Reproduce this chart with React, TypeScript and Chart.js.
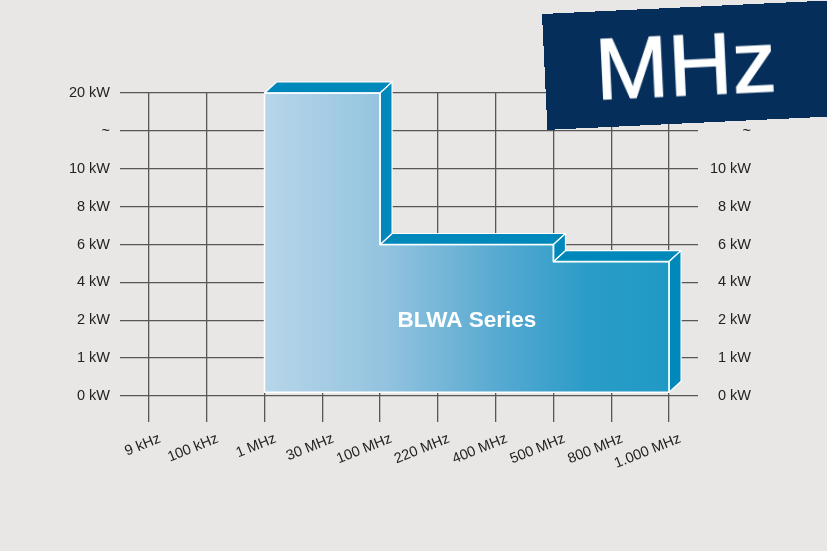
import React, { useEffect, useRef } from "react";
import { Chart, registerables } from "chart.js";

Chart.register(...registerables);

const frequencies = [
  "9 kHz",
  "100 kHz",
  "1 MHz",
  "30 MHz",
  "100 MHz",
  "220 MHz",
  "400 MHz",
  "500 MHz",
  "800 MHz",
  "1.000 MHz",
];

// the power axis is a broken scale: one step per label
const powerLabels = ["0 kW", "1 kW", "2 kW", "4 kW", "6 kW", "8 kW", "10 kW", "~", "20 kW"];

// BLWA output power per frequency (step index on the power axis, ~5 kW above 500 MHz)
const blwaLevels: (number | null)[] = [null, null, 8, 8, 4, 4, 4, 3.55, 3.55, 3.55];

const seriesName = "BLWA Series";
const seriesLabelAt = { x: 5.5, y: 2 };
const fillBase = 0.1;

const GRID = "#575757";
const TEXT = "#222222";
const FONT = '"Liberation Sans", Arial, sans-serif';
const DX = 12;
const DY = 11;

// group the stepped values into flat runs (step happens at the next run's start)
const getRuns = () => {
  const runs: { s: number; e: number; v: number }[] = [];
  blwaLevels.forEach((v, i) => {
    if (v == null) return;
    const last = runs[runs.length - 1];
    if (last && last.v === v) {
      last.e = i;
    } else {
      if (last) last.e = i;
      runs.push({ s: i, e: i, v });
    }
  });
  return runs;
};

const frontPath = (chart: any) => {
  const { ctx, scales } = chart;
  const x = scales.x;
  const y = scales.y;
  const runs = getRuns();
  const yBase = y.getPixelForValue(fillBase);
  ctx.beginPath();
  ctx.moveTo(x.getPixelForValue(runs[0].s), yBase);
  ctx.lineTo(x.getPixelForValue(runs[0].s), y.getPixelForValue(runs[0].v));
  runs.forEach((r, k) => {
    const xb = x.getPixelForValue(r.e);
    ctx.lineTo(xb, y.getPixelForValue(r.v));
    ctx.lineTo(xb, k < runs.length - 1 ? y.getPixelForValue(runs[k + 1].v) : yBase);
  });
  ctx.closePath();
};

const blockPlugin = {
  id: "blwaBlock",
  beforeDatasetsDraw(chart: any) {
    const { ctx, scales } = chart;
    const xs = scales.x;
    ctx.save();
    const g = ctx.createLinearGradient(xs.getPixelForValue(2), 0, xs.getPixelForValue(9), 0);
    g.addColorStop(0, "#b7d6e9");
    g.addColorStop(0.3, "#93c3df");
    g.addColorStop(0.6, "#52a8d0");
    g.addColorStop(0.8, "#2a9cc7");
    g.addColorStop(1, "#1f9ac5");
    frontPath(chart);
    ctx.fillStyle = g;
    ctx.fill();
    ctx.restore();
  },
  afterDatasetsDraw(chart: any) {
    const { ctx, scales } = chart;
    const x = scales.x;
    const y = scales.y;
    const runs = getRuns();
    if (!runs.length) return;

    const poly = (pts: number[][]) => {
      ctx.beginPath();
      pts.forEach(([px, py], k) => (k ? ctx.lineTo(px, py) : ctx.moveTo(px, py)));
      ctx.closePath();
      ctx.fill();
      ctx.stroke();
    };

    ctx.save();
    ctx.fillStyle = "#0088bb";
    ctx.strokeStyle = "#ffffff";
    ctx.lineWidth = 1.2;
    ctx.lineJoin = "round";

    // top faces
    runs.forEach((r) => {
      const xa = x.getPixelForValue(r.s);
      const xb = x.getPixelForValue(r.e);
      const yv = y.getPixelForValue(r.v);
      poly([
        [xa, yv],
        [xb, yv],
        [xb + DX, yv - DY],
        [xa + DX, yv - DY],
      ]);
    });

    // right faces
    runs.forEach((r, k) => {
      const xb = x.getPixelForValue(r.e);
      const yv = y.getPixelForValue(r.v);
      const yn = y.getPixelForValue(k < runs.length - 1 ? runs[k + 1].v : fillBase);
      poly([
        [xb, yv],
        [xb + DX, yv - DY],
        [xb + DX, yn - DY],
        [xb, yn],
      ]);
    });

    // white outline of the front face
    frontPath(chart);
    ctx.lineWidth = 1.5;
    ctx.stroke();

    ctx.fillStyle = "#ffffff";
    ctx.font = `bold 22.5px ${FONT}`;
    ctx.textAlign = "center";
    ctx.textBaseline = "middle";
    ctx.fillText(seriesName, x.getPixelForValue(seriesLabelAt.x), y.getPixelForValue(seriesLabelAt.y) + 1);
    ctx.restore();
  },
};

const App: React.FC = () => {
  const canvasRef = useRef<HTMLCanvasElement | null>(null);
  const chartRef = useRef<Chart | null>(null);

  useEffect(() => {
    if (!canvasRef.current) return;
    if (chartRef.current) chartRef.current.destroy();

    const tickFont = { family: FONT, size: 14.5 };

    chartRef.current = new Chart(canvasRef.current, {
      type: "line",
      data: {
        labels: frequencies,
        datasets: [
          {
            label: seriesName,
            data: blwaLevels,
            stepped: "before",
            fill: false,
            borderColor: "#ffffff",
            borderWidth: 1.5,
            pointRadius: 0,
          },
        ],
      },
      options: {
        animation: false,
        responsive: true,
        maintainAspectRatio: false,
        layout: { padding: { top: 93, left: 0, right: 76, bottom: 0 } },
        plugins: {
          legend: { display: false },
          tooltip: { enabled: false },
        },
        scales: {
          x: {
            type: "category",
            offset: true,
            grid: { offset: false, color: GRID, lineWidth: 1.3, tickLength: 26, drawTicks: true },
            border: { display: false },
            ticks: {
              autoSkip: false,
              minRotation: 22,
              maxRotation: 22,
              padding: 8,
              labelOffset: 11,
              color: TEXT,
              font: tickFont,
            },
            afterFit: (s: any) => {
              s.height = 155;
            },
          },
          y: {
            min: 0,
            max: 8,
            grid: { drawTicks: false, color: GRID, lineWidth: 1.3 },
            border: { display: false },
            ticks: {
              stepSize: 1,
              padding: 10,
              color: TEXT,
              font: tickFont,
              callback: (v: any) => powerLabels[v],
            },
            afterFit: (s: any) => {
              s.width = 120;
            },
          },
          y2: {
            position: "right",
            min: 0,
            max: 8,
            grid: { display: false },
            border: { display: false },
            ticks: {
              stepSize: 1,
              padding: 0,
              crossAlign: "far",
              color: TEXT,
              font: tickFont,
              callback: (v: any) => powerLabels[v],
            },
            afterFit: (s: any) => {
              s.width = 53;
            },
          },
        },
      },
      plugins: [blockPlugin],
    } as any);

    return () => {
      if (chartRef.current) {
        chartRef.current.destroy();
        chartRef.current = null;
      }
    };
  }, []);

  return (
    <div
      style={{
        position: "fixed",
        left: 0,
        top: 0,
        width: 827,
        height: 551,
        background: "#e8e7e5",
        overflow: "hidden",
      }}
    >
      <div style={{ position: "absolute", left: 0, top: 0, width: 827, height: 551 }}>
        <canvas ref={canvasRef} />
      </div>
      <div
        style={{
          position: "absolute",
          left: 541.7,
          top: 14.3,
          width: 300,
          height: 116,
          background: "#052f5a",
          transform: "rotate(-2.7deg)",
          transformOrigin: "0 0",
        }}
      >
        <div
          style={{
            width: 282,
            textAlign: "center",
            color: "#ffffff",
            fontFamily: FONT,
            fontSize: 88,
            lineHeight: "116px",
            WebkitTextStroke: "1.2px #ffffff",
          }}
        >
          MHz
        </div>
      </div>
    </div>
  );
};

export default App;
